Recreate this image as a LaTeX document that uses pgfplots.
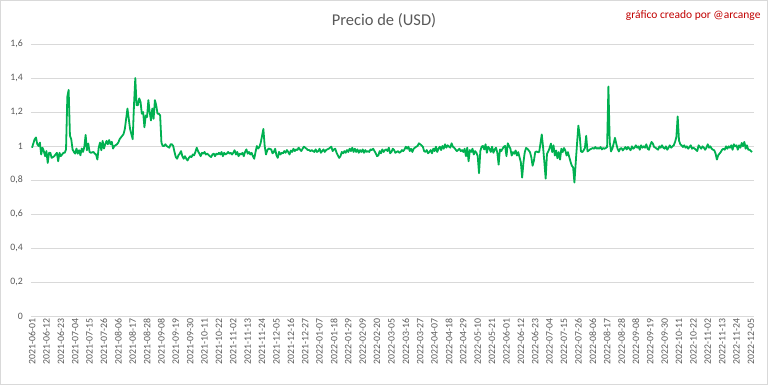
\documentclass[border=0pt]{standalone}
\usepackage{pgfplots}
\pgfplotsset{compat=1.18}
\usepackage{pgfplotstable}
\usepackage{fontspec}
\setmainfont{Carlito}
\definecolor{lgreen}{HTML}{00B050}
\definecolor{txtgray}{HTML}{595959}
\definecolor{gridgray}{HTML}{D9D9D9}
\definecolor{darkred}{HTML}{C00000}
\pgfplotstableread{
x y
0 0.99
2 1.04
3 1.05
4 1.01
5 1.00
6 1.02
7 0.95
8 0.99
9 0.97
10 0.94
11 0.97
12 0.90
13 0.96
14 0.96
15 0.93
17 0.94
18 0.95
19 0.96
20 0.91
21 0.96
22 0.94
23 0.95
24 0.96
25 0.96
26 0.98
27 1.29
28 1.33
29 1.06
30 1.04
31 0.98
32 0.965
33 0.955
34 0.985
35 0.955
36 0.975
37 0.945
38 0.985
39 0.965
40 0.995
41 1.065
42 0.975
43 1.015
44 0.965
45 0.96
47 0.965
48 0.955
49 0.95
50 0.92
51 0.99
52 1.02
53 0.975
54 1.03
55 0.985
56 1.01
57 1.03
58 1.01
59 1.035
60 1.01
61 1.025
62 0.985
63 1.00
64 1.005
65 1.01
66 1.02
67 1.04
68 1.05
69 1.06
70 1.07
71 1.10
72 1.16
73 1.22
74 1.16
75 1.10
76 1.07
77 1.04
78 1.24
79 1.40
80 1.24
81 1.24
82 1.28
83 1.26
84 1.19
85 1.20
86 1.11
87 1.18
88 1.17
89 1.27
90 1.20
91 1.15
92 1.22
93 1.16
94 1.27
95 1.24
96 1.19
97 1.19
98 1.18
99 1.02
100 1.00
101 1.00
102 1.01
103 1.00
104 0.995
105 0.99
106 1.01
107 1.01
108 1.00
109 0.965
110 0.935
111 0.925
112 0.945
113 0.955
114 0.97
115 0.94
116 0.925
117 0.94
118 0.925
119 0.915
120 0.93
121 0.94
122 0.935
123 0.95
124 0.945
125 0.965
126 0.99
127 0.97
128 0.955
129 0.94
130 0.96
131 0.955
132 0.965
133 0.95
134 0.955
136 0.94
137 0.935
138 0.95
139 0.955
140 0.94
141 0.955
142 0.95
143 0.96
144 0.95
145 0.965
146 0.94
147 0.96
148 0.95
149 0.955
150 0.965
151 0.955
152 0.96
153 0.95
154 0.96
155 0.975
156 0.95
157 0.965
158 0.94
159 0.955
160 0.95
161 0.96
162 0.94
163 0.965
164 0.98
165 0.955
166 0.965
167 0.95
168 0.96
169 0.94
170 0.925
171 0.965
172 1.00
173 0.985
174 0.995
175 1.02
176 1.06
177 1.10
178 1.00
179 0.95
180 0.975
181 0.985
183 0.98
184 0.957
185 0.965
186 0.984
187 0.945
188 0.93
189 0.965
190 0.95
191 0.96
192 0.957
193 0.97
194 0.96
195 0.976
196 0.965
197 0.95
198 0.973
199 0.965
200 0.984
201 0.97
202 0.98
203 0.976
204 0.99
205 0.98
206 0.97
207 0.984
208 0.996
209 0.99
210 0.984
211 0.976
212 0.976
213 0.97
214 0.976
215 0.97
216 0.965
217 0.98
218 0.965
219 0.97
220 0.984
221 0.96
222 0.97
223 0.98
224 0.965
225 0.976
226 0.98
227 0.984
229 0.996
230 0.97
231 0.98
232 0.984
233 0.96
234 0.945
235 0.93
236 0.94
237 0.965
238 0.957
239 0.97
240 0.96
241 0.976
242 0.965
243 0.984
244 0.97
245 0.99
246 0.965
247 0.984
248 0.965
249 0.98
250 0.96
251 0.976
252 0.965
253 0.98
254 0.96
255 0.976
256 0.965
257 0.97
258 0.965
259 0.98
260 0.976
261 0.984
262 0.97
263 0.957
264 0.94
265 0.945
266 0.97
267 0.957
268 0.98
269 0.965
270 0.976
271 0.98
272 0.97
273 0.99
274 0.957
275 0.965
276 0.984
277 0.976
278 0.96
279 0.965
280 0.97
281 0.96
282 0.965
283 0.976
284 0.97
285 0.98
286 0.996
287 0.984
288 0.996
289 0.97
290 0.984
291 0.965
292 0.984
293 0.99
294 0.996
295 1.00
296 1.016
297 1.01
298 1.004
299 0.996
300 0.97
301 0.965
302 0.976
303 0.957
304 0.965
305 0.976
306 0.957
307 0.984
308 0.97
309 0.996
310 0.965
311 0.984
312 0.996
313 0.976
314 1.00
315 0.984
316 1.01
317 0.99
318 1.004
320 0.99
321 1.016
322 0.996
323 0.99
324 0.98
325 0.97
326 0.976
327 0.984
328 0.97
329 0.976
330 0.965
331 0.984
332 0.94
333 0.99
334 0.91
335 0.976
336 0.965
337 0.984
338 0.95
339 0.97
340 0.96
341 0.94
342 0.84
343 0.97
344 0.996
345 1.00
346 0.98
347 1.01
348 0.96
349 0.996
350 0.984
351 0.965
352 0.996
353 0.96
354 0.98
355 0.99
356 0.96
357 0.89
358 0.98
359 0.97
360 0.984
361 0.996
362 1.00
363 0.94
364 1.016
366 0.984
367 0.944
368 0.964
369 0.954
370 0.974
371 0.944
372 0.964
373 0.934
374 0.904
375 0.814
376 0.904
377 0.964
378 0.988
379 0.984
380 0.974
381 0.964
382 0.934
383 0.884
384 0.914
385 0.964
386 0.968
387 0.964
388 0.964
389 1.014
390 1.068
391 0.994
392 0.904
393 0.808
394 0.954
395 0.968
396 0.988
397 1.014
398 0.964
399 1.004
400 0.944
401 0.974
402 0.928
403 0.964
404 0.92
405 0.984
406 0.964
407 0.988
408 0.974
409 0.944
410 0.964
412 0.908
413 0.884
414 0.874
415 0.785
416 0.904
417 1.014
418 1.12
419 1.064
420 0.968
421 0.964
422 0.974
423 0.988
424 1.06
425 0.968
426 0.974
427 0.98
428 0.984
429 0.988
430 0.984
431 0.994
432 0.984
433 0.988
434 0.984
435 0.994
436 0.98
437 0.988
438 0.984
439 0.988
440 0.994
441 1.35
442 1.024
443 0.968
444 0.984
445 1.014
446 1.048
447 1.014
448 0.984
449 0.968
450 0.984
451 0.988
452 0.974
453 0.984
454 0.994
455 0.98
456 0.994
458 0.975
459 0.998
460 0.984
461 0.99
462 1.004
463 0.99
464 0.998
465 0.978
466 1.004
467 0.99
468 0.998
469 0.99
470 1.01
471 0.984
472 0.978
473 1.004
474 1.024
475 1.014
476 0.994
477 0.99
478 0.984
479 0.978
480 0.998
481 0.99
482 1.004
483 0.99
484 0.984
485 0.998
486 0.978
487 0.99
488 1.004
489 0.99
490 0.998
491 1.004
492 1.024
493 1.053
494 1.174
495 1.033
496 1.01
497 1.004
498 0.994
499 1.004
500 0.99
501 0.998
502 0.984
504 1.004
505 0.984
506 0.99
507 0.984
508 0.978
509 0.97
510 1.004
511 0.994
512 0.984
513 0.998
514 0.99
515 0.978
516 0.99
517 1.01
518 0.99
519 0.998
520 0.984
521 0.978
522 0.975
523 0.955
524 0.92
525 0.945
526 0.955
527 0.965
528 0.978
529 0.984
530 0.978
531 0.998
532 0.984
533 0.998
534 0.99
535 1.004
536 0.978
537 1.01
538 0.998
539 1.004
540 0.978
541 1.004
542 0.99
543 1.018
544 0.998
545 1.024
546 0.984
547 1.004
548 0.978
549 0.978
550 0.97
551 0.965
}\pricedata
\begin{document}
\begin{tikzpicture}
\path[use as bounding box] (0,0) rectangle (768pt,385pt);
\draw[gridgray, line width=0.8pt] (0.4pt,0.4pt) rectangle (767.6pt,384.6pt);
\begin{axis}[
  at={(31pt,69pt)}, anchor=south west,
  scale only axis,
  width=723pt, height=272pt,
  xmin=-0.8, xmax=552.4,
  ymin=0, ymax=1.6,
  ytick={0,0.2,...,1.6},
  xtick={0,11,...,550},
  xticklabels={2021-06-01,2021-06-12,2021-06-23,2021-07-04,2021-07-15,2021-07-26,2021-08-06,2021-08-17,2021-08-28,2021-09-08,2021-09-19,2021-09-30,2021-10-11,2021-10-22,2021-11-02,2021-11-13,2021-11-24,2021-12-05,2021-12-16,2021-12-27,2022-01-07,2022-01-18,2022-01-29,2022-02-09,2022-02-20,2022-03-05,2022-03-16,2022-03-27,2022-04-07,2022-04-18,2022-04-29,2022-05-10,2022-05-21,2022-06-01,2022-06-12,2022-06-23,2022-07-04,2022-07-15,2022-07-26,2022-08-06,2022-08-17,2022-08-28,2022-09-08,2022-09-19,2022-09-30,2022-10-11,2022-10-22,2022-11-02,2022-11-13,2022-11-24,2022-12-05},
  xticklabel style={rotate=90, anchor=east, font=\fontsize{9.8}{11}\selectfont, text=txtgray, inner sep=2.5pt},
  yticklabel style={font=\fontsize{9.8}{11}\selectfont, text=txtgray, inner sep=3pt, xshift=-5pt},
  /pgf/number format/assume math mode=true,
  /pgf/number format/use comma,
  yticklabel={\pgfmathprintnumber{\tick}},
  axis line style={draw=none},
  major tick length=0pt,
  ymajorgrids,
  grid style={gridgray, line width=0.8pt},
  clip=false,
]
\addplot[lgreen, line width=1.8pt, line join=round, mark=none] table[x=x, y=y] {\pricedata};
\end{axis}
\node[text=txtgray, font=\fontsize{16.5}{19}\selectfont] at (384pt,364pt) {Precio de (USD)};
\node[text=darkred, font=\fontsize{11.5}{13}\selectfont, anchor=east] at (764pt,369pt) {gráfico creado por @arcange};
\end{tikzpicture}
\end{document}
